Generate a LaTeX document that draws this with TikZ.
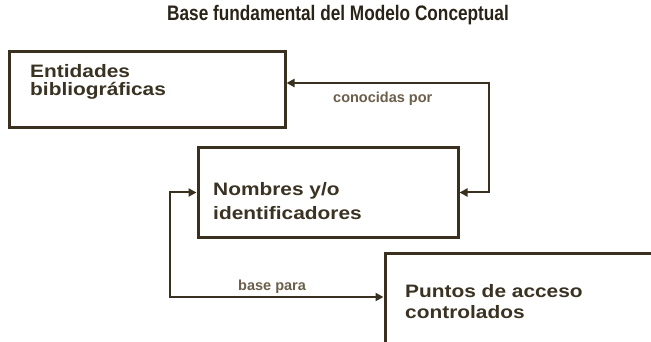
\documentclass[tikz,border=0pt]{standalone}
\usepackage{fontspec}
\setmainfont{Liberation Sans}
\newfontfamily\titlefont[FakeStretch=0.82]{Liberation Sans}
\newfontfamily\boxfont[FakeStretch=1.16]{Liberation Sans}
\usetikzlibrary{arrows.meta}
\definecolor{lineC}{HTML}{3A3020}
\definecolor{boxtxt}{HTML}{3A3222}
\definecolor{labtxt}{HTML}{6B5F4C}
\definecolor{titC}{HTML}{2A2418}
\tikzset{
  box/.style={draw=lineC, line width=3pt, rectangle, inner sep=0pt},
  boxtext/.style={anchor=base west, inner sep=0pt, text=boxtxt, font=\boxfont\bfseries\fontsize{18}{18}\selectfont},
  lab/.style={anchor=base west, inner sep=0pt, text=labtxt, font=\bfseries\fontsize{14.5}{14.5}\selectfont},
  conn/.style={draw=lineC, line width=2pt, {Triangle[length=8pt,width=8pt]}-{Triangle[length=8pt,width=8pt]}},
}
\begin{document}
\begin{tikzpicture}[x=1pt,y=-1pt]
\clip (0,0) rectangle (651,342);
\fill[white] (0,0) rectangle (651,342);
% title
\node[anchor=base, inner sep=0pt, text=titC, font=\titlefont\bfseries\fontsize{21}{21}\selectfont] (title) at (338,21) {Base fundamental del Modelo Conceptual};
% boxes
\node[box, minimum width=276pt, minimum height=76pt] (box1) at (147,90) {};
\node[box, minimum width=260pt, minimum height=89pt] (box2) at (328,192.5) {};
\node[box, minimum width=320pt, minimum height=150pt] (box3) at (545,328) {};
% box texts
\node[boxtext] (t1a) at (30,78) {Entidades};
\node[boxtext] (t1b) at (30,96) {bibliográficas};
\node[boxtext] (t2a) at (213,196) {Nombres y/o};
\node[boxtext] (t2b) at (213,219) {identificadores};
\node[boxtext] (t3a) at (405,297) {Puntos de acceso};
\node[boxtext] (t3b) at (405,318) {controlados};
% connectors
\coordinate (c1) at (489,83);
\coordinate (c2) at (170,297);
\draw[conn] (c1 -| box1.east) -- (c1) |- (box2.east);
\draw[conn] (box2.west) -| (c2) -- (c2 -| box3.west);
% labels
\node[lab] (l1) at (333,103) {conocidas por};
\node[lab] (l2) at (238,290) {base para};
\end{tikzpicture}
\end{document}
